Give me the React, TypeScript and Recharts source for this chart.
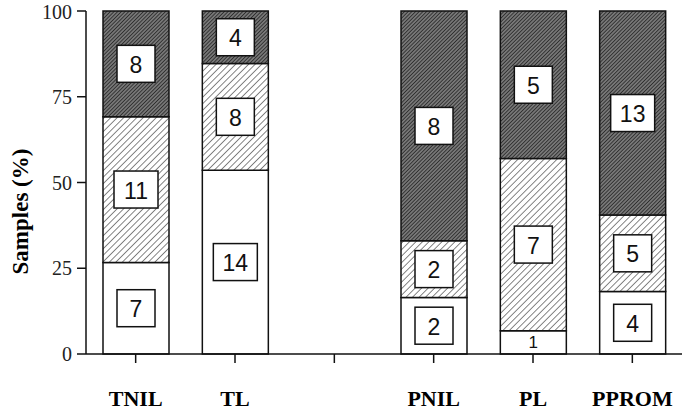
import { BarChart, Bar, XAxis, YAxis, LabelList } from 'recharts';

// groups along the x axis (the blank slot is the gap between T and P groups)
const groups = ['TNIL', 'TL', '', 'PNIL', 'PL', 'PPROM'];

// percentage of samples per stack segment
const plainPct = [26.7, 53.6, null, 16.5, 6.8, 18.2];
const lightPct = [42.5, 31.1, null, 16.5, 50.2, 22.3];
const darkPct = [30.8, 15.3, null, 67.0, 43.0, 59.5];

// sample counts printed in the boxes
const plainN = [7, 14, null, 2, 1, 4];
const lightN = [11, 8, null, 2, 7, 5];
const darkN = [8, 4, null, 8, 5, 13];

const yTicks = [0, 25, 50, 75, 100];

const data = groups.map((name, i) => ({
  name,
  plain: plainPct[i],
  light: lightPct[i],
  dark: darkPct[i],
  plainN: plainN[i],
  lightN: lightN[i],
  darkN: darkN[i],
}));

const serif = 'Liberation Serif';
const sans = 'Liberation Sans';

function CountBox(props: any) {
  const { x, y, width, height, value } = props;
  if (value == null) return null;
  const cx = Number(x) + Number(width) / 2;
  const cy = Number(y) + Number(height) / 2;
  if (Number(height) < 40) {
    return (
      <text x={cx} y={cy} textAnchor="middle" dominantBaseline="central" fontFamily={sans} fontSize={17} fill="#111">
        {value}
      </text>
    );
  }
  const w = String(value).length > 1 ? 44 : 38;
  const h = 37;
  return (
    <g>
      <rect x={cx - w / 2} y={cy - h / 2} width={w} height={h} fill="#fff" stroke="#111" strokeWidth={1.5} />
      <text x={cx} y={cy + 1} textAnchor="middle" dominantBaseline="central" fontFamily={sans} fontSize={23} fill="#111">
        {value}
      </text>
    </g>
  );
}

function GroupTick(props: any) {
  const { x, y, payload } = props;
  return (
    <text x={x} y={y + 41} textAnchor="middle" fontFamily={serif} fontWeight="bold" fontSize={22} fill="#000">
      {payload.value}
    </text>
  );
}

function YTitle(props: any) {
  const { viewBox } = props;
  const cx = 20;
  const cy = viewBox.y + viewBox.height / 2 + 29;
  return (
    <text
      x={cx}
      y={cy}
      transform={`rotate(-90 ${cx} ${cy})`}
      textAnchor="middle"
      dominantBaseline="central"
      fontFamily={serif}
      fontWeight="bold"
      fontSize={23}
      fill="#000"
    >
      Samples (%)
    </text>
  );
}

export default function App() {
  return (
    <div style={{ position: 'absolute', left: 0, top: 0, background: '#fff' }}>
      <svg width={0} height={0} style={{ position: 'absolute' }}>
        <defs>
          <pattern id="hatchLight" patternUnits="userSpaceOnUse" width={4.6} height={4.6} patternTransform="rotate(45)">
            <rect width={4.6} height={4.6} fill="#fff" />
            <line x1={0} y1={0} x2={0} y2={4.6} stroke="#333" strokeWidth={1.2} />
          </pattern>
          <pattern id="hatchDark" patternUnits="userSpaceOnUse" width={2.6} height={2.6} patternTransform="rotate(45)">
            <rect width={2.6} height={2.6} fill="#777" />
            <line x1={0} y1={0} x2={0} y2={2.6} stroke="#151515" strokeWidth={1.3} />
          </pattern>
        </defs>
      </svg>
      <BarChart width={685} height={411} data={data} margin={{ top: 11, right: 3, bottom: 0, left: 0 }} barSize={66}>
        <XAxis
          dataKey="name"
          height={57}
          tickSize={9}
          tickLine={{ stroke: '#111', strokeWidth: 1.5 }}
          axisLine={{ stroke: '#111', strokeWidth: 1.5 }}
          tick={<GroupTick />}
          interval={0}
        />
        <YAxis
          width={86}
          domain={[0, 100]}
          ticks={yTicks}
          tickSize={9}
          tickMargin={5}
          tickLine={{ stroke: '#111', strokeWidth: 1.5 }}
          axisLine={{ stroke: '#111', strokeWidth: 1.5 }}
          tick={{ fontFamily: serif, fontSize: 20, fill: '#222' }}
          label={<YTitle />}
        />
        <Bar dataKey="plain" stackId="s" fill="#fff" stroke="#111" strokeWidth={1.5} isAnimationActive={false}>
          <LabelList dataKey="plainN" content={<CountBox />} />
        </Bar>
        <Bar dataKey="light" stackId="s" fill="url(#hatchLight)" stroke="#111" strokeWidth={1.5} isAnimationActive={false}>
          <LabelList dataKey="lightN" content={<CountBox />} />
        </Bar>
        <Bar dataKey="dark" stackId="s" fill="url(#hatchDark)" stroke="#111" strokeWidth={1.5} isAnimationActive={false}>
          <LabelList dataKey="darkN" content={<CountBox />} />
        </Bar>
      </BarChart>
    </div>
  );
}
